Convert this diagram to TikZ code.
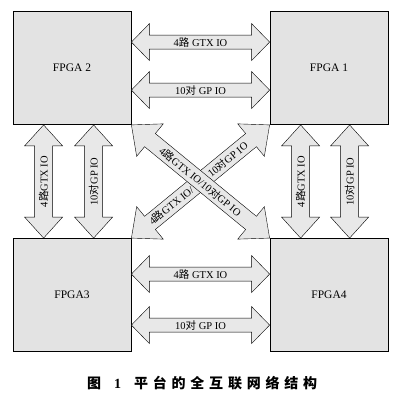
\documentclass[tikz,border=0pt]{standalone}
\usepackage{fontspec}
\setmainfont{Liberation Serif}
\newfontfamily\cjk{Noto Sans CJK SC}
\newfontfamily\cjkcap[LetterSpace=34]{Noto Sans CJK SC}
\usetikzlibrary{calc}

\newcommand{\zh}[1]{{\cjk #1}}
% fat two-headed bus: ends, shaft half width, head half width, head length, label
\newcommand{\duplex}[6]{%
  \draw[bus] (#1) -- ($(#1)!#5!(#2)!#4!90:(#2)$) -- ($(#1)!#5!(#2)!#3!90:(#2)$)
    -- ($(#2)!#5!(#1)!#3!-90:(#1)$) -- ($(#2)!#5!(#1)!#4!-90:(#1)$) -- (#2)
    -- ($(#2)!#5!(#1)!#4!90:(#1)$) -- ($(#2)!#5!(#1)!#3!90:(#1)$)
    -- ($(#1)!#5!(#2)!#3!-90:(#2)$) -- ($(#1)!#5!(#2)!#4!-90:(#2)$) -- cycle;
  \path (#1) -- (#2) node[midway, sloped, buslabel] {#6};
}

\begin{document}
\begin{tikzpicture}[x=1pt, y=-1pt,
    fpga/.style={draw, thick, fill=gray!22, minimum width=118pt, minimum height=113pt,
      font=\fontsize{11.5}{13}\selectfont},
    bus/.style={draw, fill=gray!18, line join=miter},
    buslabel/.style={inner sep=0pt, font=\fontsize{10.5}{12}\selectfont}]
      \useasboundingbox (0,0) rectangle (400,403);
      %boxes
      \node[fpga] (f2) at (72,68) {FPGA 2};
      \node[fpga] (f1) at (329,68) {FPGA 1};
      \node[fpga] (f3) at (72,295) {FPGA3};
      \node[fpga] (f4) at (329,295) {FPGA4};
      %ends
      \coordinate (gtx21w) at ([yshift=-31pt]f2.north east);
      \coordinate (gtx21e) at ([yshift=-31pt]f1.north west);
      \coordinate (gp21w) at ([yshift=-79pt]f2.north east);
      \coordinate (gp21e) at ([yshift=-79pt]f1.north west);
      \coordinate (gtx34w) at ([yshift=-36pt]f3.north east);
      \coordinate (gtx34e) at ([yshift=-36pt]f4.north west);
      \coordinate (gp34w) at ([yshift=-87pt]f3.north east);
      \coordinate (gp34e) at ([yshift=-87pt]f4.north west);
      \coordinate (gtx23s) at ([xshift=31pt]f3.north west);
      \coordinate (gtx23n) at ([xshift=31pt]f2.south west);
      \coordinate (gp23s) at ([xshift=81pt]f3.north west);
      \coordinate (gp23n) at ([xshift=81pt]f2.south west);
      \coordinate (gtx14s) at ([xshift=31pt]f4.north west);
      \coordinate (gtx14n) at ([xshift=31pt]f1.south west);
      \coordinate (gp14s) at ([xshift=80pt]f4.north west);
      \coordinate (gp14n) at ([xshift=80pt]f1.south west);
      %buses
      \duplex{gtx21w}{gtx21e}{7pt}{18.5pt}{18pt}{4\zh{路} GTX IO}
      \duplex{gp21w}{gp21e}{7pt}{18.5pt}{18pt}{10\zh{对} GP IO}
      \duplex{gtx34w}{gtx34e}{7pt}{18.5pt}{18pt}{4\zh{路} GTX IO}
      \duplex{gp34w}{gp34e}{7pt}{18.5pt}{18pt}{10\zh{对} GP IO}
      \duplex{gtx23s}{gtx23n}{9pt}{19pt}{21pt}{4\zh{路}GTX IO}
      \duplex{gp23s}{gp23n}{9pt}{19pt}{21pt}{10\zh{对}GP IO}
      \duplex{gtx14s}{gtx14n}{9pt}{19pt}{21pt}{4\zh{路}GTX IO}
      \duplex{gp14s}{gp14n}{9pt}{19pt}{21pt}{10\zh{对}GP IO}
      %cross, lower one split round the crossing
      \duplex{f3.north east}{f1.south west}{8.5pt}{21pt}{24pt}{}
      \path (f3.north east) -- (f1.south west)
        node[pos=0.44, anchor=east, sloped, buslabel] {4\zh{路}GTX IO/}
        node[pos=0.56, anchor=west, sloped, buslabel] {10\zh{对}GP IO};
      \duplex{f2.south east}{f4.north west}{8.5pt}{21pt}{24pt}{4\zh{路}GTX IO/10\zh{对}GP IO}
      %caption
      \node[anchor=west, inner sep=0pt, font=\fontsize{14}{16}\selectfont\bfseries] (fig) at (87,383) {\zh{图}\hspace{13pt}1};
      \node[anchor=west, inner sep=0pt, font=\fontsize{14}{16}\selectfont\bfseries] (title) at (134,383) {\cjkcap 平台的全互联网络结构};
\end{tikzpicture}
\end{document}
